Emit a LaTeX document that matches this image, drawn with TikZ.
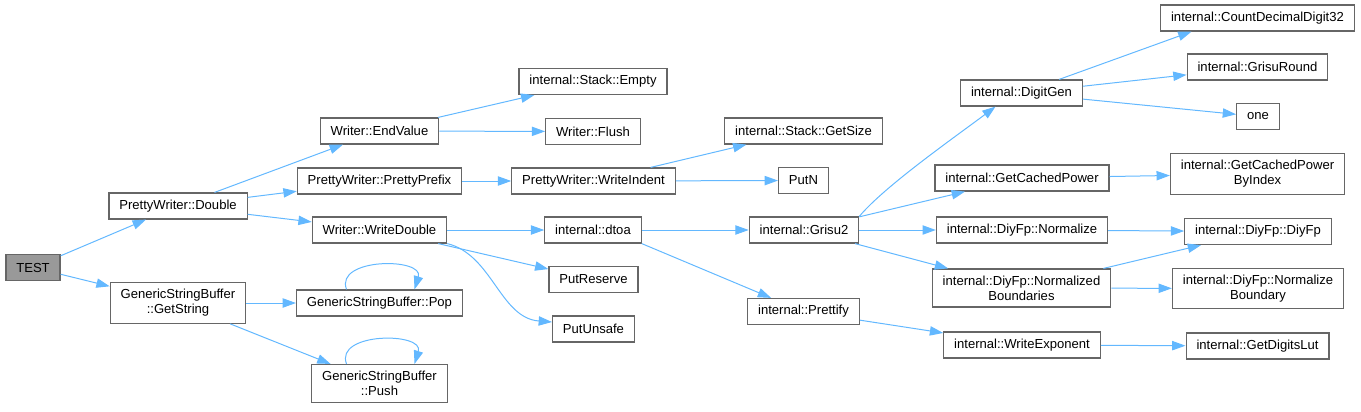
\documentclass[tikz,border=0pt]{standalone}
\usepackage{fontspec}
\setmainfont{Liberation Sans}
\usetikzlibrary{arrows.meta,calc}
\definecolor{edgeblue}{HTML}{63B8FF}
\definecolor{boxgray}{HTML}{666666}
\definecolor{rootgray}{HTML}{999999}
\begin{document}
\begin{tikzpicture}[
        x=0.75pt,
        y=-0.75pt,
        func/.style={
            rectangle,
            draw=boxgray,
            line width=0.9pt,
            fill=white,
            align=center,
            font=\fontsize{9.8pt}{11.25pt}\selectfont,
            inner xsep=7.8pt,
            inner ysep=5pt,
            minimum height=19.5pt
        },
        root/.style={
            func,
            fill=rootgray
        },
        call/.style={
            -{Triangle[length=10pt,width=7pt]},
            edgeblue,
            line width=0.75pt
        }
    ]

        \useasboundingbox (0,0) rectangle (1361,411);

        \node[root] (test) at (33,267.5) {TEST};
        \node[func] (pwdouble) at (178,206) {PrettyWriter::Double};
        \node[func] (getstring) at (178,303) {GenericStringBuffer\\::GetString};
        \node[func] (endvalue) at (379.5,131) {Writer::EndValue};
        \node[func] (prettyprefix) at (379.5,181) {PrettyWriter::PrettyPrefix};
        \node[func] (writedouble) at (379.5,230) {Writer::WriteDouble};
        \node[func] (pop) at (379.5,303) {GenericStringBuffer::Pop};
        \node[func] (push) at (379.5,383.5) {GenericStringBuffer\\::Push};
        \node[func] (stackempty) at (593,81.5) {internal::Stack::Empty};
        \node[func] (flush) at (593,131.5) {Writer::Flush};
        \node[func] (writeindent) at (593.5,181) {PrettyWriter::WriteIndent};
        \node[func] (dtoa) at (593,230) {internal::dtoa};
        \node[func] (putreserve) at (593.5,279.5) {PutReserve};
        \node[func] (putunsafe) at (593.5,329) {PutUnsafe};
        \node[func] (getsize) at (803.5,131) {internal::Stack::GetSize};
        \node[func] (putn) at (803.5,180.5) {PutN};
        \node[func] (grisu2) at (804,230) {internal::Grisu2};
        \node[func] (prettify) at (803.5,311.5) {internal::Prettify};
        \node[func] (digitgen) at (1021.5,93) {internal::DigitGen};
        \node[func] (cachedpower) at (1022,178) {internal::GetCachedPower};
        \node[func] (normalize) at (1022,230) {internal::DiyFp::Normalize};
        \node[func] (boundaries) at (1021.5,288) {internal::DiyFp::Normalized\\Boundaries};
        \node[func] (writeexponent) at (1022,345) {internal::WriteExponent};
        \node[func] (countdigit) at (1257.5,18) {internal::CountDecimalDigit32};
        \node[func] (grisuround) at (1257.5,67) {internal::GrisuRound};
        \node[func] (one) at (1258,116.5) {one};
        \node[func] (powerbyindex) at (1257.5,174) {internal::GetCachedPower\\ByIndex};
        \node[func] (diyfp) at (1258,231.5) {internal::DiyFp::DiyFp};
        \node[func] (normboundary) at (1258,288.5) {internal::DiyFp::Normalize\\Boundary};
        \node[func] (digitslut) at (1257.5,346) {internal::GetDigitsLut};

        \draw[call] (test) -- (pwdouble);
        \draw[call] (test) -- (getstring);
        \draw[call] (pwdouble) -- (endvalue);
        \draw[call] (pwdouble) -- (prettyprefix);
        \draw[call] (pwdouble) -- (writedouble);
        \draw[call] (getstring) -- (pop);
        \draw[call] (getstring) -- (push);
        \draw[call] ($(pop.north)+(-33,0)$) .. controls +(-12,-32) and +(10,-32) .. ($(pop.north)+(35,0)$);
        \draw[call] ($(push.north)+(-33,0)$) .. controls +(-12,-32) and +(10,-32) .. ($(push.north)+(35,0)$);
        \draw[call] (endvalue) -- (stackempty);
        \draw[call] (endvalue) -- (flush);
        \draw[call] (prettyprefix) -- (writeindent);
        \draw[call] (writeindent) -- (getsize);
        \draw[call] (writeindent) -- (putn);
        \draw[call] (writedouble) -- (dtoa);
        \draw[call] (writedouble) -- (putreserve);
        \draw[call] (writedouble.south east) .. controls +(45,11) and +(-52,-4) .. ($(putunsafe.west)+(0,-7)$);
        \draw[call] (dtoa) -- (grisu2);
        \draw[call] (dtoa.south east) -- (prettify);
        \draw[call] (grisu2.north east) .. controls +(25,-30) and +(-40,30) .. ($(digitgen.south)+(-26,0)$);
        \draw[call] (grisu2) -- (cachedpower);
        \draw[call] (grisu2) -- (normalize);
        \draw[call] (grisu2) -- (boundaries);
        \draw[call] (prettify) -- (writeexponent);
        \draw[call] (digitgen) -- ($(countdigit.south)+(-66,0)$);
        \draw[call] (digitgen) -- (grisuround);
        \draw[call] (digitgen) -- (one);
        \draw[call] (cachedpower) -- (powerbyindex);
        \draw[call] (normalize) -- (diyfp);
        \draw[call] (boundaries) -- (diyfp);
        \draw[call] (boundaries) -- (normboundary);
        \draw[call] (writeexponent) -- (digitslut);

    \end{tikzpicture}
\end{document}
